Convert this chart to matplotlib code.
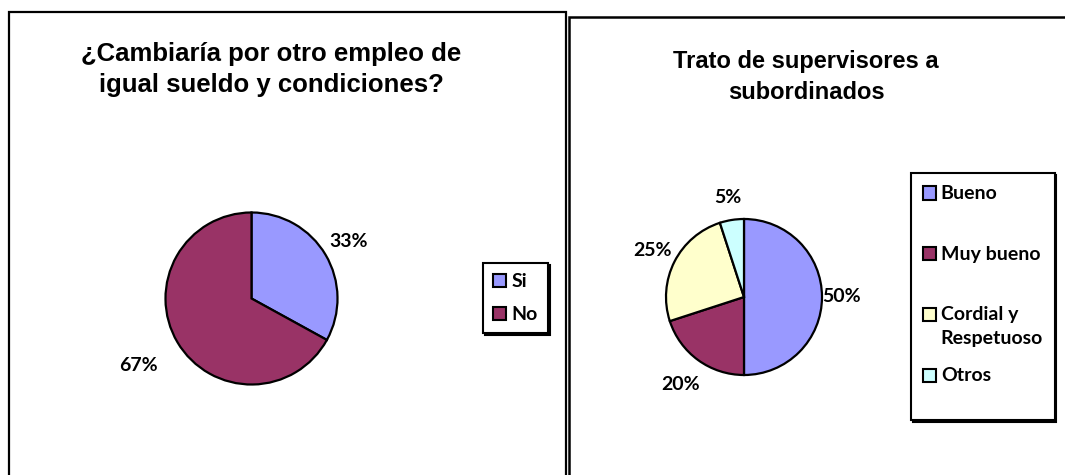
import matplotlib
matplotlib.use("Agg")
import numpy as np
import matplotlib.pyplot as plt
from matplotlib.patches import Rectangle, Patch
from matplotlib.legend_handler import HandlerPatch

# ---- data ----
left_title = "¿Cambiaría por otro empleo de\nigual sueldo y condiciones?"
left_labels = ["Si", "No"]
left_values = [33, 67]
left_colors = ["#9999FF", "#993366"]

right_title = "Trato de supervisores a\nsubordinados"
right_labels = ["Bueno", "Muy bueno", "Cordial y\nRespetuoso", "Otros"]
right_values = [50, 20, 25, 5]
right_colors = ["#9999FF", "#993366", "#FFFFCC", "#CCFFFF"]

# label distance factors (style)
left_label_dist = [1.31, 1.53]
right_label_dist = [1.25, 1.38, 1.31, 1.29]

W, H = 1065, 475
fig = plt.figure(figsize=(W / 100, H / 100), dpi=100)
fig.patch.set_facecolor("white")


def fx(x):
    return x / W


def fy(y):
    return 1 - y / H


# panel borders
fig.patches.append(Rectangle((fx(8.5), fy(490)), fx(566) - fx(8.5), fy(11.5) - fy(490),
                             transform=fig.transFigure, fill=False, lw=1.6, ec="black"))
fig.patches.append(Rectangle((fx(568.5), fy(490)), fx(1090) - fx(568.5), fy(16.5) - fy(490),
                             transform=fig.transFigure, fill=False, lw=1.8, ec="black"))

title_font = dict(family=["Liberation Sans", "DejaVu Sans"], weight="bold")
lab_font = ["Lato", "DejaVu Sans"]
FS = 14


def pie_axes(cx, cy, r):
    half = 160
    ax = fig.add_axes([fx(cx - half), fy(cy + half), 2 * half / W, 2 * half / H])
    return ax, half / r


def draw_pie(cx, cy, r, values, colors, dists):
    ax, lim = pie_axes(cx, cy, r)
    wedges, _, autotexts = ax.pie(
        values, colors=colors, startangle=90, counterclock=False,
        autopct="%1.0f%%", pctdistance=1.3,
        wedgeprops=dict(edgecolor="black", linewidth=1.6), frame=False)
    ax.set_xlim(-lim, lim)
    ax.set_ylim(-lim, lim)
    ax.set_aspect("auto")
    ax.axis("off")
    for w, t, d in zip(wedges, autotexts, dists):
        ang = np.deg2rad((w.theta1 + w.theta2) / 2)
        t.set_position((d * np.cos(ang), d * np.sin(ang)))
        t.set_fontsize(FS)
        t.set_fontweight("bold")
        t.set_family(lab_font)
    return ax


draw_pie(251.5, 298.5, 86, left_values, left_colors, left_label_dist)
draw_pie(744, 297, 78, right_values, right_colors, right_label_dist)

fig.text(fx(271), fy(69.5), left_title, ha="center", va="center", fontsize=18.5,
         linespacing=1.4, **title_font)
fig.text(fx(806), fy(77), right_title, ha="center", va="center", fontsize=17,
         linespacing=1.45, **title_font)


def square_handler(yfrac):
    def make(legend, orig_handle, xdescent, ydescent, width, height, fontsize):
        s = fontsize * 0.68
        return Rectangle((-xdescent, fontsize * yfrac), s, s)
    return HandlerPatch(patch_func=make)


shadow = {"ox": 1.3, "oy": -1.3, "color": "black", "alpha": 1.0}

legL = fig.legend(handles=[Patch(facecolor=c, edgecolor="black", lw=1.5) for c in left_colors],
                  labels=left_labels, loc="upper left",
                  bbox_to_anchor=(fx(483), fy(263)), bbox_transform=fig.transFigure,
                  handler_map={Patch: square_handler(0.0)},
                  frameon=True, fancybox=False, edgecolor="black", shadow=shadow,
                  prop=dict(family=lab_font, weight="bold", size=FS),
                  handlelength=0.68, handleheight=0.7, handletextpad=0.3,
                  labelspacing=0.85, borderpad=0.5, borderaxespad=0)
legL.get_frame().set_linewidth(1.5)

# pad every entry to two lines so all entries share the same height
right_disp = [lab if "\n" in lab else lab + "\n" for lab in right_labels]
legR = fig.legend(handles=[Patch(facecolor=c, edgecolor="black", lw=1.5) for c in right_colors],
                  labels=right_disp, loc="upper left",
                  bbox_to_anchor=(fx(911), fy(173)), bbox_transform=fig.transFigure,
                  handler_map={Patch: square_handler(0.65)},
                  frameon=True, fancybox=False, edgecolor="black", shadow=shadow,
                  prop=dict(family=lab_font, weight="bold", size=FS),
                  handlelength=0.68, handleheight=0.7, handletextpad=0.25,
                  labelspacing=1.02, borderpad=0.6, borderaxespad=0)
legR.get_frame().set_linewidth(1.5)
for t in legR.get_texts():
    t.set_linespacing(1.5)

fig.savefig("out.png", dpi=100, facecolor="white")
